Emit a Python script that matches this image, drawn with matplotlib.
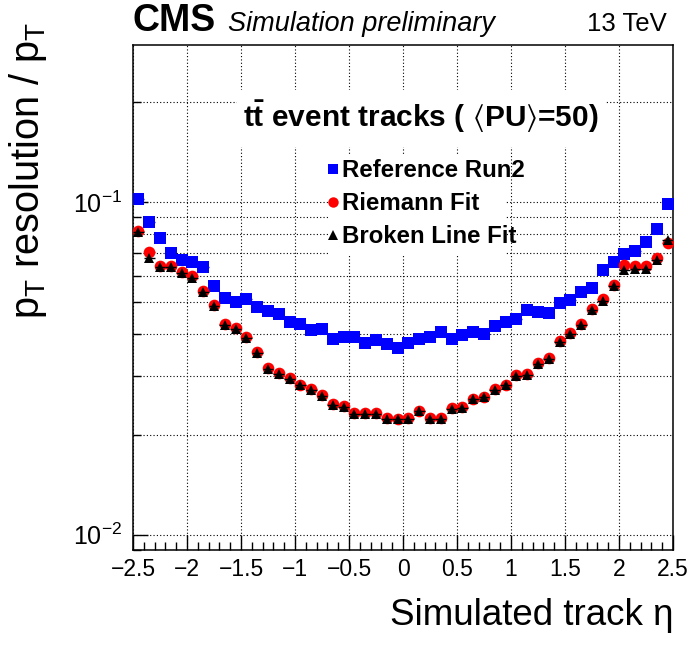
import matplotlib
matplotlib.use("Agg")
import matplotlib.pyplot as plt
import matplotlib.ticker as mticker
from matplotlib.patches import Rectangle
from matplotlib.lines import Line2D
import numpy as np

plt.rcParams['font.family'] = ['Liberation Sans', 'DejaVu Sans']
plt.rcParams['mathtext.fontset'] = 'custom'
plt.rcParams['mathtext.rm'] = 'Liberation Sans'
plt.rcParams['mathtext.it'] = 'Liberation Sans:italic'
plt.rcParams['mathtext.bf'] = 'Liberation Sans:bold'
plt.rcParams['mathtext.fallback'] = 'stixsans'
plt.rcParams['axes.unicode_minus'] = True

# ---- data ----
eta_bin_width = 0.1
eta_centers = [-2.45, -2.35, -2.25, -2.15, -2.05, -1.95, -1.85, -1.75, -1.65, -1.55,
               -1.45, -1.35, -1.25, -1.15, -1.05, -0.95, -0.85, -0.75, -0.65, -0.55,
               -0.45, -0.35, -0.25, -0.15, -0.05, 0.05, 0.15, 0.25, 0.35, 0.45,
               0.55, 0.65, 0.75, 0.85, 0.95, 1.05, 1.15, 1.25, 1.35, 1.45,
               1.55, 1.65, 1.75, 1.85, 1.95, 2.05, 2.15, 2.25, 2.35, 2.45]

reference_run2 = [0.102, 0.0869, 0.0781, 0.0702, 0.0670, 0.0659, 0.0637, 0.0560, 0.0514, 0.0499,
                  0.0511, 0.0482, 0.0469, 0.0460, 0.0435, 0.0430, 0.0413, 0.0416, 0.0388, 0.0394,
                  0.0394, 0.0377, 0.0385, 0.0373, 0.0364, 0.0377, 0.0388, 0.0393, 0.0406, 0.0388,
                  0.0397, 0.0406, 0.0401, 0.0425, 0.0437, 0.0446, 0.0474, 0.0467, 0.0463, 0.0497,
                  0.0508, 0.0538, 0.0551, 0.0625, 0.0662, 0.0698, 0.0710, 0.0757, 0.0830, 0.0986]

riemann_fit = [0.0818, 0.0705, 0.0640, 0.0640, 0.0616, 0.0597, 0.0541, 0.0490, 0.0430, 0.0418,
               0.0393, 0.0354, 0.0317, 0.0306, 0.0296, 0.0282, 0.0274, 0.0263, 0.0247, 0.0244,
               0.0232, 0.0232, 0.0232, 0.0224, 0.0223, 0.0224, 0.0236, 0.0224, 0.0224, 0.0240,
               0.0242, 0.0256, 0.0260, 0.0275, 0.0282, 0.0302, 0.0304, 0.0328, 0.0340, 0.0383,
               0.0403, 0.0430, 0.0477, 0.0511, 0.0564, 0.0647, 0.0640, 0.0640, 0.0678, 0.0751]

broken_line_fit = [0.0812, 0.0680, 0.0636, 0.0636, 0.0610, 0.0592, 0.0537, 0.0486, 0.0427, 0.0415,
                   0.0390, 0.0352, 0.0315, 0.0304, 0.0294, 0.0281, 0.0272, 0.0261, 0.0246, 0.0242,
                   0.0231, 0.0231, 0.0231, 0.0223, 0.0222, 0.0223, 0.0235, 0.0223, 0.0223, 0.0239,
                   0.0241, 0.0255, 0.0259, 0.0273, 0.0281, 0.0300, 0.0302, 0.0326, 0.0338, 0.0380,
                   0.0400, 0.0427, 0.0472, 0.0505, 0.0558, 0.0625, 0.0630, 0.0630, 0.0668, 0.0768]

series_labels = ["Reference Run2", "Riemann Fit", "Broken Line Fit"]
x_ticks = [-2.5, -2, -1.5, -1, -0.5, 0, 0.5, 1, 1.5, 2, 2.5]
x_tick_labels = ["\u22122.5", "\u22122", "\u22121.5", "\u22121", "\u22120.5", "0", "0.5", "1", "1.5", "2", "2.5"]
y_ticks = [0.01, 0.1]
y_tick_labels = [r"$10^{-2}$", r"$10^{-1}$"]

# ---- figure ----
W, H = 696, 647
fig = plt.figure(figsize=(W / 100, H / 100), dpi=100)
L, R, T, B = 133, 673, 45, 550
ax = fig.add_axes([L / W, 1 - B / H, (R - L) / W, (B - T) / H])

def axfrac(px, py):
    return (px - L) / (R - L), (B - py) / (B - T)

ax.set_yscale('log')
ax.set_xlim(-2.5, 2.5)
ax.set_ylim(0.009, 0.296)

xerr = [eta_bin_width / 2] * len(eta_centers)
ax.errorbar(eta_centers, reference_run2, xerr=xerr, fmt='s', color='#0000ff',
            ms=8.0, mew=0, elinewidth=1.0, capsize=0, zorder=4)
ax.errorbar(eta_centers, riemann_fit, xerr=xerr, fmt='o', color='#ff0000',
            ms=8.4, mew=0, elinewidth=1.0, capsize=0, zorder=5)
ax.errorbar(eta_centers, broken_line_fit, xerr=xerr, fmt='^', color='black',
            ms=7.5, mew=0, elinewidth=1.0, capsize=0, zorder=6)

# ticks
ax.set_xticks(x_ticks)
ax.set_xticklabels(x_tick_labels)
ax.xaxis.set_minor_locator(mticker.MultipleLocator(0.1))
ax.yaxis.set_major_locator(mticker.FixedLocator(y_ticks))
ax.yaxis.set_major_formatter(mticker.FixedFormatter(y_tick_labels))
ax.yaxis.set_minor_locator(mticker.LogLocator(base=10, subs=np.arange(2, 10), numticks=20))
ax.yaxis.set_minor_formatter(mticker.NullFormatter())
ax.tick_params(axis='both', which='both', direction='in', top=False, right=False)
ax.tick_params(axis='both', which='major', length=10.5, width=1.0)
ax.tick_params(axis='x', which='major', labelsize=16.5, pad=6)
ax.tick_params(axis='y', which='major', labelsize=18, pad=8)
ax.tick_params(axis='both', which='minor', length=5.5, width=1.0)

grid_kw = dict(color='black', linestyle=(0, (1, 2)), linewidth=0.8)
ax.grid(True, which='major', axis='both', **grid_kw)
ax.grid(True, which='minor', axis='y', **grid_kw)
ax.set_axisbelow(True)
for s in ax.spines.values():
    s.set_linewidth(1.1)
    s.set_color('black')

# white boxes behind title and legend (cover grid)
x0, y0 = axfrac(237, 147)
x1, y1 = axfrac(605, 90)
ax.add_patch(Rectangle((x0, y0), x1 - x0, y1 - y0, transform=ax.transAxes,
                       facecolor='white', edgecolor='none', zorder=2))
x0, y0 = axfrac(329, 256)
x1, y1 = axfrac(505, 156)
ax.add_patch(Rectangle((x0, y0), x1 - x0, y1 - y0, transform=ax.transAxes,
                       facecolor='white', edgecolor='none', zorder=2))

tx, ty = axfrac(243, 127)
ax.text(tx, ty, r"$\mathbf{t\bar{t}}$ event tracks ( $\langle$PU$\rangle$=50)",
        transform=ax.transAxes, fontsize=21.5, fontweight='bold', ha='left', va='baseline',
        zorder=7)

handles = [
    Line2D([], [], linestyle='none', marker='s', color='#0000ff', ms=7, mew=0),
    Line2D([], [], linestyle='none', marker='o', color='#ff0000', ms=7.5, mew=0),
    Line2D([], [], linestyle='none', marker='^', color='black', ms=6.5, mew=0),
]
lx, ly = axfrac(326, 159)
leg = ax.legend(handles, series_labels, loc='upper left', bbox_to_anchor=(lx, ly),
                frameon=False, handlelength=0.55, handletextpad=0.12, borderpad=0,
                borderaxespad=0, labelspacing=0.42,
                prop={'weight': 'bold', 'size': 17.3})
leg.set_zorder(8)

# axis labels
ax.set_xlabel("Simulated track \u03b7", fontsize=26.5, loc='right', labelpad=12)
ax.set_ylabel(r"p$_{\mathrm{T}}$ resolution / p$_{\mathrm{T}}$", fontsize=28.5, loc='top')
ax.yaxis.set_label_coords(-0.155, 1.045)

# header texts
fig.text(133 / W, 1 - 31 / H, "CMS", fontsize=27, fontweight='bold', ha='left', va='baseline')
fig.text(228 / W, 1 - 31 / H, "Simulation preliminary", fontsize=19.5, style='italic',
         ha='left', va='baseline')
fig.text(667 / W, 1 - 31 / H, "13 TeV", fontsize=18.5, ha='right', va='baseline')

fig.savefig("out.png", dpi=100)
